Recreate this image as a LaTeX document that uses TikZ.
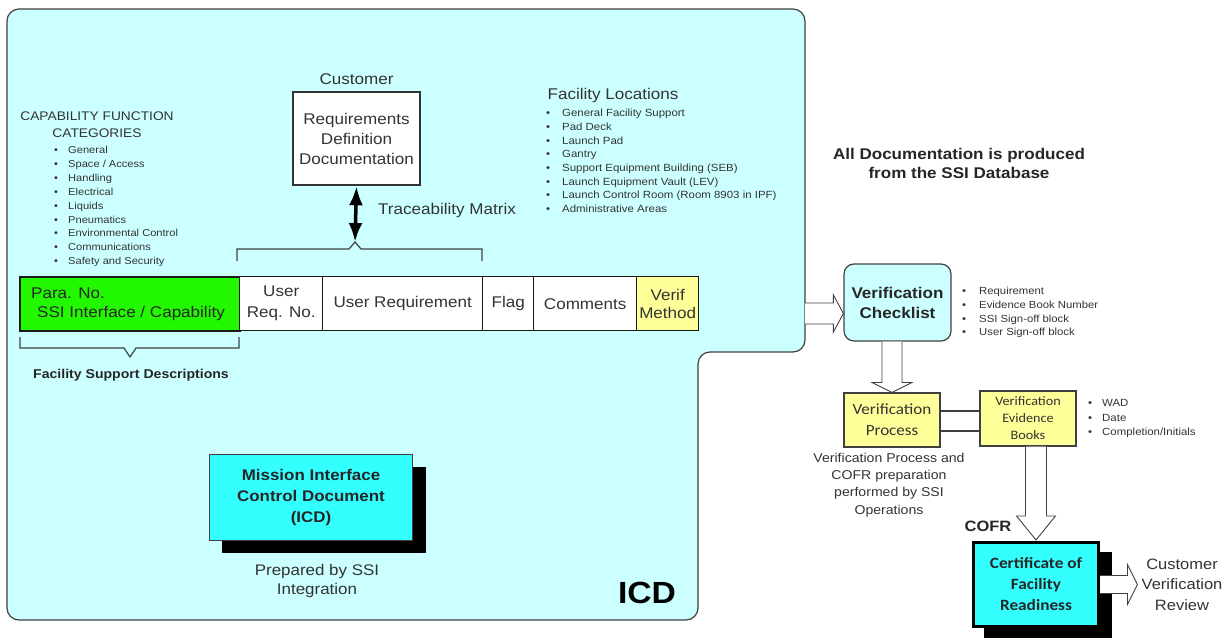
\documentclass[tikz,border=0pt]{standalone}
\usepackage{fontspec}
\setmainfont[FakeStretch=1.1]{Liberation Sans}
\newfontfamily\calfont[FakeStretch=1.1]{Carlito}
\usetikzlibrary{arrows.meta,calc}

\definecolor{icdbg}{HTML}{CCFFFF}
\definecolor{brightgreen}{HTML}{22F800}
\definecolor{paleyellow}{HTML}{FFFF99}
\definecolor{aqua}{HTML}{33FFFF}
\definecolor{ink}{HTML}{333333}
\definecolor{edge}{HTML}{404040}

\newcommand\fs[2]{\fontsize{#1}{#2}\selectfont}
\newcommand\bitem[2]{\makebox[#1][l]{\textbullet}#2}

\begin{document}
\begin{tikzpicture}[x=1pt,y=-1pt,
  txt/.style={text=ink, inner sep=0pt, align=center},
  bold/.style={text=black!85, inner sep=0pt, align=center, font=\bfseries},
  cell/.style={draw=black!90, line width=1.4pt, fill=white, minimum height=54pt,
               inner sep=0pt, anchor=north west, text=ink, align=center,
               font=\fs{15.5}{21}},
  hollow/.style={draw=edge, fill=white, line width=0.9pt, line join=miter},
  bracket/.style={draw=edge, line width=1.2pt},
  shade/.style={fill=black, draw=none, inner sep=0pt, anchor=north west},
  listnode/.style={text=ink, inner sep=0pt, align=left, anchor=west},
  ybox/.style={draw=edge, line width=1.1pt, fill=paleyellow, inner sep=0pt,
               text=ink, align=center}
]
\useasboundingbox (0,0) rectangle (1228,637);
\fill[white] (0,0) rectangle (1228,637);

% ---------------- ICD area ----------------
\draw[fill=icdbg, draw=edge, line width=1.2pt, rounded corners=12pt]
  (7,9) -- (805,9) -- (805,352) -- (698,352) -- (698,620) -- (7,620) -- cycle;

% capability categories
\node[txt, font=\fs{12.5}{17}] (capttl) at (97,124.5) {CAPABILITY FUNCTION\\CATEGORIES};
\node[listnode, font=\fs{10.1}{13.9}] (caplist) at (54,206.5) {%
  \bitem{14pt}{General}\\
  \bitem{14pt}{Space / Access}\\
  \bitem{14pt}{Handling}\\
  \bitem{14pt}{Electrical}\\
  \bitem{14pt}{Liquids}\\
  \bitem{14pt}{Pneumatics}\\
  \bitem{14pt}{Environmental Control}\\
  \bitem{14pt}{Communications}\\
  \bitem{14pt}{Safety and Security}};

% customer requirements
\node[txt, font=\fs{15.5}{20}] (custlbl) at (356.5,79) {Customer};
\node[draw=ink, line width=2.5pt, fill=white, minimum width=127pt, minimum height=93pt,
      txt, font=\fs{15.5}{20}] (cust) at (356.5,138.5)
      {Requirements\\Definition\\Documentation};

% facility locations
\node[txt, font=\fs{15.5}{20}] (facttl) at (613,95) {Facility Locations};
\node[listnode, font=\fs{10.4}{13.7}] (faclist) at (546,161) {%
  \bitem{16pt}{General Facility Support}\\
  \bitem{16pt}{Pad Deck}\\
  \bitem{16pt}{Launch Pad}\\
  \bitem{16pt}{Gantry}\\
  \bitem{16pt}{Support Equipment Building (SEB)}\\
  \bitem{16pt}{Launch Equipment Vault (LEV)}\\
  \bitem{16pt}{Launch Control Room (Room 8903 in IPF)}\\
  \bitem{16pt}{Administrative Areas}};

% traceability link
\coordinate (bpeak) at (355,242);
\draw[line width=3.5pt, {Latex[length=19pt,width=14pt]}-{Latex[length=19pt,width=14pt]}]
  (cust.south) -- (bpeak);
\node[txt, anchor=west, font=\fs{15.5}{20}] (trace) at (378,210) {Traceability Matrix};
\draw[bracket] (237,261) -- (237,249) -- (349,249) -- (bpeak) -- (361,249) -- (482,249) -- (482,261);

% requirements table
\node[cell, fill=brightgreen, line width=2pt, minimum width=220pt] (c1) at (19,276) {};
\node[listnode, text=black!85, font=\fs{15.5}{19}] (c1txt) at (31,304)
  {Para. No.\\\hspace*{6pt}SSI Interface / Capability};
\node[cell, minimum width=83pt] (c2) at (239,276) {User\\Req. No.};
\node[cell, minimum width=160pt] (c3) at (322,276) {User Requirement};
\node[cell, minimum width=51pt] (c4) at (482,276) {Flag};
\node[cell, minimum width=103pt] (c5) at (533,276) {Comments};
\node[cell, minimum width=62pt, fill=paleyellow, font=\fs{15.5}{18}] (c6) at (636,276) {Verif\\Method};

\coordinate (lpeak) at (130,357);
\draw[bracket] (20,337) -- (20,348) -- (124,348) -- (lpeak) -- (136,348) -- (239,348) -- (239,337);
\node[bold, font=\fs{12.8}{16}\bfseries] (fsd) at (131,375) {Facility Support Descriptions};

% mission interface control document
\node[shade, minimum width=204pt, minimum height=86pt] (micsh) at (222,467) {};
\node[draw=edge, line width=1pt, fill=aqua, minimum width=203pt, minimum height=86pt,
      bold, font=\fs{15.4}{21}\bfseries, anchor=north west] (mic) at (209,454)
      {Mission Interface\\Control Document\\(ICD)};
\node[txt, font=\fs{15.4}{19}] (prep) at (317,581.5) {Prepared by SSI\\Integration};
\node[inner sep=0pt, font=\fs{30.6}{34}\bfseries, text=black] (icdlbl) at (647,593) {ICD};

% ---------------- verification flow ----------------
\node[bold, font=\fs{15.5}{19}\bfseries] (alldoc) at (959,163.5)
  {All Documentation is produced\\from the SSI Database};

\node[draw=edge, fill=icdbg, rounded corners=10pt, line width=1.2pt,
      minimum width=107pt, minimum height=77pt, bold, font=\fs{15.5}{20}\bfseries] (chk)
      at (897.5,302.5) {Verification\\Checklist};
\node[listnode, font=\fs{10.3}{13.7}] (chklist) at (962,312.5) {%
  \bitem{17pt}{Requirement}\\
  \bitem{17pt}{Evidence Book Number}\\
  \bitem{17pt}{SSI Sign-off block}\\
  \bitem{17pt}{User Sign-off block}};

% arrow from the ICD into the checklist
\coordinate (a1s) at (805,313.5);
\coordinate (a1t) at ($(chk.west)+(0,11)$);
\filldraw[hollow] ($(a1s)+(0,-10.5)$) -- ($(a1t)+(-10,-10.5)$) -- ($(a1t)+(-10,-18.5)$)
  -- (a1t) -- ($(a1t)+(-10,18.5)$) -- ($(a1t)+(-10,10.5)$) -- ($(a1s)+(0,10.5)$);

\node[ybox, minimum width=96pt, minimum height=54pt, font=\calfont\fs{15.5}{21}] (vp)
  at (892,420) {Verification\\Process};
\node[ybox, minimum width=96pt, minimum height=55pt, font=\calfont\fs{12.9}{17}] (veb)
  at (1028,418.5) {Verification\\Evidence\\Books};
\node[listnode, font=\fs{10.4}{14.5}] (veblist) at (1088,418.5) {%
  \bitem{14pt}{WAD}\\
  \bitem{14pt}{Date}\\
  \bitem{14pt}{Completion/Initials}};

% checklist down to the verification process
\coordinate (a2s) at (vp.north |- chk.south);
\filldraw[hollow] ($(a2s)+(-10,0)$) -- ($(vp.north)+(-10,-10)$) -- ($(vp.north)+(-20,-10)$)
  -- (vp.north) -- ($(vp.north)+(20,-10)$) -- ($(vp.north)+(10,-10)$) -- ($(a2s)+(10,0)$);

% process <-> evidence books
\coordinate (l1) at (0,411);
\coordinate (l2) at (0,431);
\draw[draw=edge, line width=1.1pt] (vp.east |- l1) -- (veb.west |- l1);
\draw[draw=edge, line width=1.1pt] (vp.east |- l2) -- (veb.west |- l2);

\node[txt, font=\fs{12.8}{17.3}] (vpnote) at (889,485)
  {Verification Process and\\COFR preparation\\performed by SSI\\Operations};

% certificate of facility readiness
\node[shade, minimum width=128pt, minimum height=90pt] (certsh) at (984,552) {};
\node[draw=black, line width=3pt, fill=aqua, minimum width=125pt, minimum height=84pt,
      anchor=north west, bold, font=\calfont\fs{15.7}{21}\bfseries] (cert) at (972,541)
      {Certificate of\\Facility\\Readiness};

% evidence books down to the certificate
\coordinate (a3s) at (cert.north |- veb.south);
\coordinate (a3t) at ($(cert.north)+(0,-1)$);
\filldraw[hollow] ($(a3s)+(-10.5,0)$) -- ($(a3t)+(-10.5,-24)$) -- ($(a3t)+(-19.5,-24)$)
  -- (a3t) -- ($(a3t)+(19.5,-24)$) -- ($(a3t)+(10.5,-24)$) -- ($(a3s)+(10.5,0)$);
\node[bold, font=\fs{15}{18}\bfseries] (cofr) at (988,526) {COFR};

% certificate out to the customer review
\node[txt, font=\fs{15}{20.5}] (review) at (1182,584.5) {Customer\\Verification\\Review};
\coordinate (a4s) at (cert.east);
\coordinate (a4t) at ($(review.west)+(-4,0)$);
\filldraw[hollow] ($(a4s)+(0,-9)$) -- ($(a4t)+(-10,-9)$) -- ($(a4t)+(-10,-20)$)
  -- (a4t) -- ($(a4t)+(-10,20)$) -- ($(a4t)+(-10,9)$) -- ($(a4s)+(0,9)$);

\end{tikzpicture}
\end{document}
